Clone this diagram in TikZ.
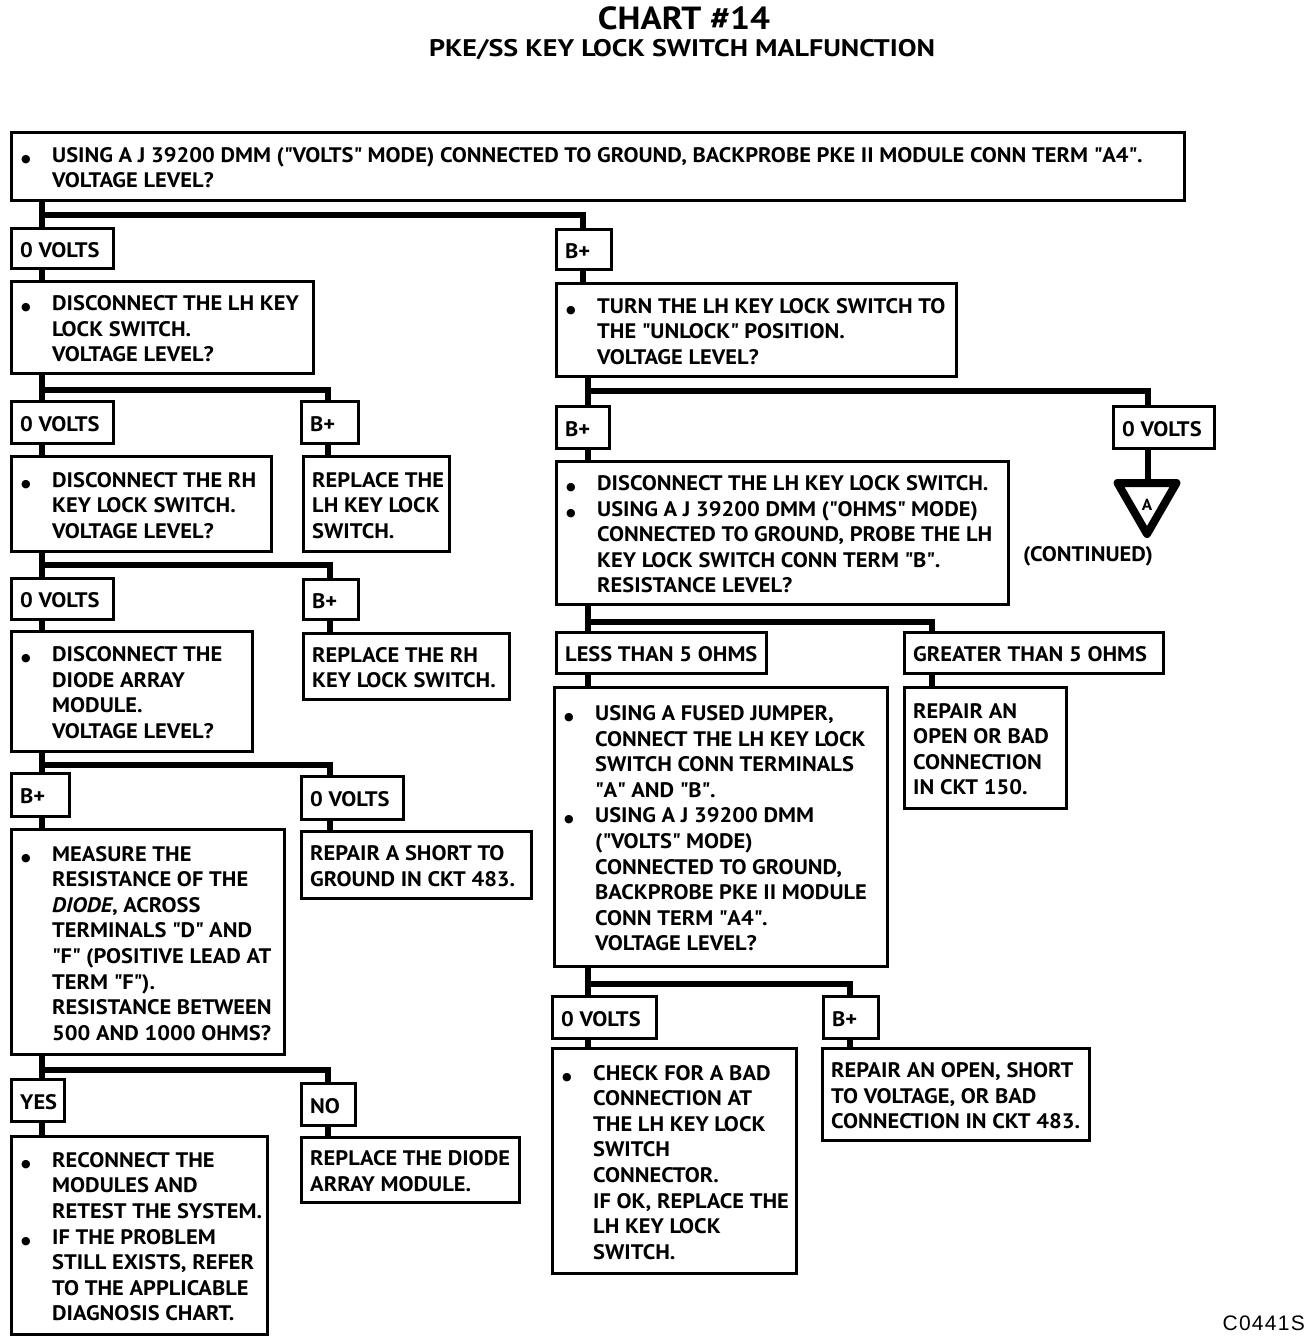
\documentclass[tikz,border=0pt]{standalone}
\usepackage{fontspec}
\setmainfont{PT Sans}[FakeStretch=1.07]
\newfontfamily\titlef[FakeStretch=1.1]{PT Sans}
\newfontfamily\subf[FakeStretch=1.17]{PT Sans}
\newfontfamily\symf{DejaVu Sans}
\newfontfamily\codef[LetterSpace=6]{Liberation Sans}
\usetikzlibrary{calc,shapes.geometric}
\newcommand\bu{\makebox[32pt][l]{\hspace{1pt}{\symf\fontsize{11}{11}\selectfont ●}}}
\newcommand\ii{\hspace*{32pt}}
\newcommand\qq{\textquotedbl}
\newcommand\bx[6]{%
  \node[frame, minimum width=#4pt, minimum height=#5pt] (#1) at (#2,#3) {};
  \node[txt] (#1t) at ([xshift=10pt,yshift=-1.5pt]#1.west) {#6};}
\newcommand\branch[8]{%
  \coordinate (#2x) at ([xshift=#4pt]#2.north west);
  \coordinate (#3x) at ([xshift=#5pt]#3.north west);
  \draw[conn] (#1.south -| #2x) -- (#2x);
  \draw[conn] ($(#1.south -| #2x)+(0,#6)$) -| (#3x);
  \draw[conn] (#2.south -| #2x) -- (#7.north -| #2x);
  \draw[conn] (#3.south -| #3x) -- (#8.north -| #3x);}
\begin{document}
\begin{tikzpicture}[x=1pt,y=-1pt,
  frame/.style={draw, line width=2.5pt, fill=white, anchor=north west, inner sep=0pt},
  txt/.style={anchor=west, inner sep=0pt, align=left, font=\bfseries\fontsize{21}{25.6}\selectfont},
  conn/.style={line width=6pt}]
\useasboundingbox[fill=white] (0,0) rectangle (1312,1342);
\node[font=\titlef\bfseries\fontsize{32}{32}\selectfont] (title) at (684,18) {CHART \#14};
\node[font=\subf\bfseries\fontsize{24}{24}\selectfont] (sub) at (682,50) {PKE/SS KEY LOCK SWITCH MALFUNCTION};
% top
\bx{b1}{10}{131}{1173}{68}{\bu USING A J 39200 DMM (\qq VOLTS\qq\ MODE) CONNECTED TO GROUND, BACKPROBE PKE II MODULE CONN TERM \qq A4\qq.\\\ii VOLTAGE LEVEL?}
\bx{l1a}{10}{227}{102}{40}{0 VOLTS}
\bx{l1b}{555}{228}{55}{40}{B+}
\bx{b2l}{10}{280}{302}{92}{\bu DISCONNECT THE LH KEY\\\ii LOCK SWITCH.\\\ii VOLTAGE LEVEL?}
\bx{b2r}{555}{282}{400}{93}{\bu TURN THE LH KEY LOCK SWITCH TO\\\ii THE \qq UNLOCK\qq\ POSITION.\\\ii VOLTAGE LEVEL?}
\branch{b1}{l1a}{l1b}{32}{28}{13}{b2l}{b2r}
% left column
\bx{l2a}{10}{400}{102}{42}{0 VOLTS}
\bx{l2b}{300}{400}{57}{42}{B+}
\bx{b3l}{10}{455}{260}{95}{\bu DISCONNECT THE RH\\\ii KEY LOCK SWITCH.\\\ii VOLTAGE LEVEL?}
\bx{b3r}{302}{455}{146}{95}{REPLACE THE\\LH KEY LOCK\\SWITCH.}
\branch{b2l}{l2a}{l2b}{32}{28}{15}{b3l}{b3r}
\bx{l3a}{10}{577}{102}{41}{0 VOLTS}
\bx{l3b}{302}{578}{55}{40}{B+}
\bx{b4l}{10}{630}{241}{120}{\bu DISCONNECT THE\\\ii DIODE ARRAY\\\ii MODULE.\\\ii VOLTAGE LEVEL?}
\bx{b4r}{302}{632}{206}{66}{REPLACE THE RH\\KEY LOCK SWITCH.}
\branch{b3l}{l3a}{l3b}{32}{28}{12}{b4l}{b4r}
\bx{l4a}{10}{772}{58}{43}{B+}
\bx{l4b}{300}{775}{102}{43}{0 VOLTS}
\bx{b5l}{10}{828}{273}{225}{\bu MEASURE THE\\\ii RESISTANCE OF THE\\\ii \textit{DIODE}, ACROSS\\\ii TERMINALS \qq D\qq\ AND\\\ii \qq F\qq\ (POSITIVE LEAD AT\\\ii TERM \qq F\qq).\\\ii RESISTANCE BETWEEN\\\ii 500 AND 1000 OHMS?}
\bx{b5r}{300}{830}{230}{67}{REPAIR A SHORT TO\\GROUND IN CKT 483.}
\branch{b4l}{l4a}{l4b}{32}{30}{12}{b5l}{b5r}
\bx{l5a}{10}{1078}{53}{42}{YES}
\bx{l5b}{300}{1082}{54}{42}{NO}
\bx{b6l}{10}{1135}{256}{198}{\bu RECONNECT THE\\\ii MODULES AND\\\ii RETEST THE SYSTEM.\\\bu IF THE PROBLEM\\\ii STILL EXISTS, REFER\\\ii TO THE APPLICABLE\\\ii DIAGNOSIS CHART.}
\bx{b6r}{300}{1136}{218}{65}{REPLACE THE DIODE\\ARRAY MODULE.}
\branch{b5l}{l5a}{l5b}{32}{28}{14}{b6l}{b6r}
% right column
\bx{r2a}{555}{405}{53}{42}{B+}
\bx{r2b}{1112}{405}{101}{42}{0 VOLTS}
\bx{r3}{555}{460}{452}{143}{\bu DISCONNECT THE LH KEY LOCK SWITCH.\\\bu USING A J 39200 DMM (\qq OHMS\qq\ MODE)\\\ii CONNECTED TO GROUND, PROBE THE LH\\\ii KEY LOCK SWITCH CONN TERM \qq B\qq.\\\ii RESISTANCE LEVEL?}
\node[regular polygon, regular polygon sides=3, shape border rotate=180, draw, line width=8pt, line join=round, minimum size=68pt, inner sep=0pt] (tri) at (1147,500) {};
\node[font=\bfseries\fontsize{16}{16}\selectfont, inner sep=0pt] (triA) at ([yshift=-5pt]tri.center) {A};
\node[font=\bfseries\fontsize{21}{21}\selectfont] (cont) at (1088,556) {(CONTINUED)};
\coordinate (r2ax) at ([xshift=33pt]r2a.north west);
\coordinate (r2bx) at ([xshift=36pt]r2b.north west);
\draw[conn] (b2r.south -| r2ax) -- (r2ax);
\draw[conn] ($(b2r.south -| r2ax)+(0,13)$) -| (r2bx);
\draw[conn] (r2a.south -| r2ax) -- (r3.north -| r2ax);
\draw[conn] (r2b.south -| r2bx) -- (tri.north -| r2bx);
\bx{r3a}{555}{631}{210}{41}{LESS THAN 5 OHMS}
\bx{r3b}{903}{631}{259}{41}{GREATER THAN 5 OHMS}
\bx{r4}{553}{686}{333}{279}{\bu USING A FUSED JUMPER,\\\ii CONNECT THE LH KEY LOCK\\\ii SWITCH CONN TERMINALS\\\ii \qq A\qq\ AND \qq B\qq.\\\bu USING A J 39200 DMM\\\ii (\qq VOLTS\qq\ MODE)\\\ii CONNECTED TO GROUND,\\\ii BACKPROBE PKE II MODULE\\\ii CONN TERM \qq A4\qq.\\\ii VOLTAGE LEVEL?}
\bx{r4b}{903}{686}{162}{121}{REPAIR AN\\OPEN OR BAD\\CONNECTION\\IN CKT 150.}
\branch{r3}{r3a}{r3b}{33}{29}{16}{r4}{r4b}
\bx{r5a}{551}{995}{104}{42}{0 VOLTS}
\bx{r5b}{822}{995}{55}{42}{B+}
\bx{r6}{551}{1047}{244}{225}{\bu CHECK FOR A BAD\\\ii CONNECTION AT\\\ii THE LH KEY LOCK\\\ii SWITCH\\\ii CONNECTOR.\\\ii IF OK, REPLACE THE\\\ii LH KEY LOCK\\\ii SWITCH.}
\bx{r6b}{821}{1047}{267}{92}{REPAIR AN OPEN, SHORT\\TO VOLTAGE, OR BAD\\CONNECTION IN CKT 483.}
\branch{r4}{r5a}{r5b}{37}{28}{16}{r6}{r6b}
\node[anchor=east, inner sep=0pt, font=\codef\fontsize{21}{21}\selectfont] (code) at (1305,1323) {C0441S};
\end{tikzpicture}
\end{document}
